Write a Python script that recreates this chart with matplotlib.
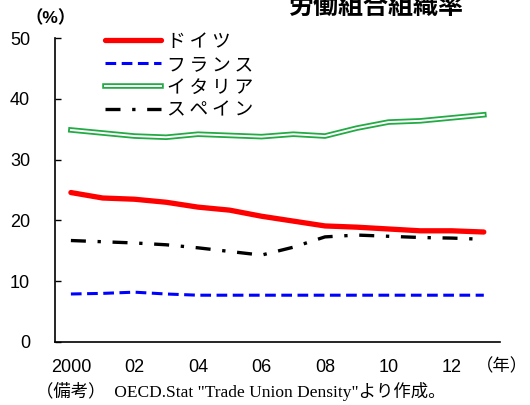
import matplotlib
matplotlib.use("Agg")
import matplotlib.pyplot as plt
import matplotlib.patheffects as pe

plt.rcParams['font.family'] = ['Liberation Sans', 'Noto Sans CJK JP', 'DejaVu Sans']

# ---------------- data ----------------
years = [2000, 2001, 2002, 2003, 2004, 2005, 2006, 2007, 2008, 2009, 2010, 2011, 2012, 2013]
germany = [24.6, 23.7, 23.5, 23.0, 22.2, 21.7, 20.7, 19.9, 19.1, 18.9, 18.6, 18.3, 18.3, 18.1]
france = [7.9, 8.0, 8.2, 7.9, 7.7, 7.7, 7.7, 7.7, 7.7, 7.7, 7.7, 7.7, 7.7, 7.7]
italy = [34.9, 34.4, 33.9, 33.7, 34.2, 34.0, 33.8, 34.2, 33.9, 35.2, 36.2, 36.4, 36.9, 37.4]
spain = [16.7, 16.5, 16.3, 16.0, 15.5, 14.9, 14.3, 15.6, 17.3, 17.6, 17.4, 17.2, 17.1, 16.9]

xtick_pos = [2000, 2002, 2004, 2006, 2008, 2010, 2012]
xtick_labels = ['2000', '02', '04', '06', '08', '10', '12']
yticks = [0, 10, 20, 30, 40, 50]

# ---------------- figure ----------------
fig = plt.figure(figsize=(5.3, 4.05), dpi=100)
ax = fig.add_axes([0.1038, 0.1556, 0.839, 0.75])

ax.plot(years, germany, color='#ff0000', lw=3.8, solid_capstyle='round', label='ドイツ')
ax.plot(years, france, color='#0000ff', lw=2.2, dashes=(3.5, 1.8), label='フランス')
ax.plot(years, italy, color='white', lw=1.4, label='イタリア',
        path_effects=[pe.Stroke(linewidth=4.0, foreground='#22aa44'), pe.Normal()])
ax.plot(years, spain, color='black', lw=2.4, dashes=(4.5, 3.5, 1.0, 3.5), label='スペイン')

ax.set_xlim(1999.5, 2013.5)
ax.set_ylim(0, 50)
ax.set_yticks(yticks)
ax.set_xticks(xtick_pos)
ax.set_xticklabels(xtick_labels)

for s in ['top', 'right']:
    ax.spines[s].set_visible(False)
ax.spines['left'].set_linewidth(1.2)
ax.spines['bottom'].set_linewidth(1.2)

ax.tick_params(axis='y', direction='in', length=4, width=1.0, labelsize=13, pad=18)
ax.tick_params(axis='x', length=0, labelsize=13, pad=12)

leg = ax.legend(loc='upper left', bbox_to_anchor=(0.075, 1.07), frameon=False,
                fontsize=13.5, handlelength=3.0, handletextpad=0.3, labelspacing=0.3)
for t in leg.get_texts():
    t.set_text(' '.join(list(t.get_text())).replace(' ', '\u2009'))

fig.text(0.095, 0.955, '（%）', fontsize=12.5, ha='center', va='center', fontweight='bold')
fig.text(0.948, 0.095, '（年）', fontsize=12.5, ha='center', va='center')
fig.text(0.71, 1 - 14 / 405, '労働組合組織率', fontsize=18, ha='center', va='baseline',
         fontweight='bold')
fig.text(0.068, 0.033, '（備考）  OECD.Stat "Trade Union Density"より作成。', fontsize=12.5,
         ha='left', va='center', family=['Liberation Serif', 'Noto Sans CJK JP'])

fig.savefig('out.png', dpi=100)
